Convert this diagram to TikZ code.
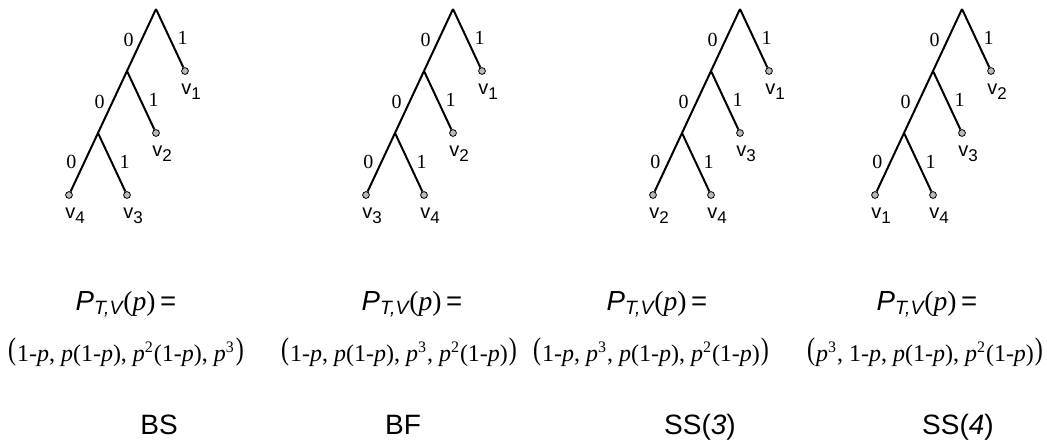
\documentclass[tikz,border=0pt]{standalone}
\usepackage{fontspec}
\usepackage{graphicx}
\setmainfont{Liberation Serif}
\setsansfont{Liberation Sans}
\usetikzlibrary{positioning}

\newcommand{\vsub}[1]{v\raisebox{-2.5pt}{\fontsize{8.5}{9}\selectfont #1}}
\newcommand{\lvec}{\raisebox{0.6pt}{\scalebox{1}[1.3]{(}}\kern0.5pt}
\newcommand{\rvec}{\kern0.5pt\raisebox{0.6pt}{\scalebox{1}[1.3]{)}}}

\begin{document}
\begin{tikzpicture}[
  x=0.5pt, y=-0.5pt,
  branch/.style={line width=1pt, line join=round},
  leafdot/.style={circle, draw=black, fill=gray!55, line width=0.4pt, minimum size=3.4pt, inner sep=0pt},
  leaflabel/.style={font=\sffamily\fontsize{10}{11}\selectfont, inner sep=0pt, xshift=3pt},
  bitlabel/.style={font=\fontsize{10}{11}\selectfont, inner sep=1.5pt},
  formula/.style={font=\fontsize{13.8}{16}\selectfont, anchor=base, inner sep=0pt},
  vecform/.style={font=\fontsize{12}{14}\selectfont, anchor=base, inner sep=0pt},
  method/.style={font=\sffamily\fontsize{14}{16}\selectfont, anchor=base, inner sep=0pt}
]
  \useasboundingbox (0,0) rectangle (1047,448);

  % the four codeword trees
  \foreach \t/\rx/\ia/\ib/\ic/\id in {1/156/1/2/4/3, 2/453/1/2/3/4, 3/740/1/3/2/4, 4/962/2/3/1/4} {
    \coordinate (r\t) at (\rx,9);
    \coordinate (a\t) at (\rx-29,71);
    \coordinate (b\t) at (\rx-58,133);
    \node[leafdot] (la\t) at (\rx+29,71) {};
    \node[leafdot] (lb\t) at (\rx,133) {};
    \node[leafdot] (lc\t) at (\rx-87,195) {};
    \node[leafdot] (ld\t) at (\rx-29,195) {};
    \draw[branch] (r\t) -- node[bitlabel, left=2pt] {0} (a\t)
      -- node[bitlabel, left=2pt] {0} (b\t)
      -- node[bitlabel, left=2pt] {0} (lc\t);
    \draw[branch] (r\t) -- node[bitlabel, right=2pt] {1} (la\t);
    \draw[branch] (a\t) -- node[bitlabel, right=2pt] {1} (lb\t);
    \draw[branch] (b\t) -- node[bitlabel, right=2pt] {1} (ld\t);
    \node[leaflabel, below=4.5pt of la\t] {\vsub{\ia}};
    \node[leaflabel, below=4.5pt of lb\t] {\vsub{\ib}};
    \node[leaflabel, below=4.5pt of lc\t] {\vsub{\ic}};
    \node[leaflabel, below=4.5pt of ld\t] {\vsub{\id}};
  }

  % probability vectors
  \foreach \t/\fx in {1/126, 2/412, 3/657, 4/927}
    \node[formula] (pt\t) at (\fx,310) {{\sffamily\itshape P\textsubscript{T,V}}(\textit{p})\,{\sffamily =}};

  \node[vecform] (vec1) at (126,361) {\lvec 1-\textit{p}, \textit{p}(1-\textit{p}), \textit{p}\textsuperscript{2}(1-\textit{p}), \textit{p}\textsuperscript{3}\rvec};
  \node[vecform] (vec2) at (399,361) {\lvec 1-\textit{p}, \textit{p}(1-\textit{p}), \textit{p}\textsuperscript{3}, \textit{p}\textsuperscript{2}(1-\textit{p})\rvec};
  \node[vecform] (vec3) at (651,361) {\lvec 1-\textit{p}, \textit{p}\textsuperscript{3}, \textit{p}(1-\textit{p}), \textit{p}\textsuperscript{2}(1-\textit{p})\rvec};
  \node[vecform] (vec4) at (925,361) {\lvec\textit{p}\textsuperscript{3}, 1-\textit{p}, \textit{p}(1-\textit{p}), \textit{p}\textsuperscript{2}(1-\textit{p})\rvec};

  % method names
  \node[method] (bs) at (159,434) {BS};
  \node[method] (bf) at (403,434) {BF};
  \node[method] (ss3) at (700,434) {SS(\textit{3})};
  \node[method] (ss4) at (958,434) {SS(\textit{4})};
\end{tikzpicture}
\end{document}
